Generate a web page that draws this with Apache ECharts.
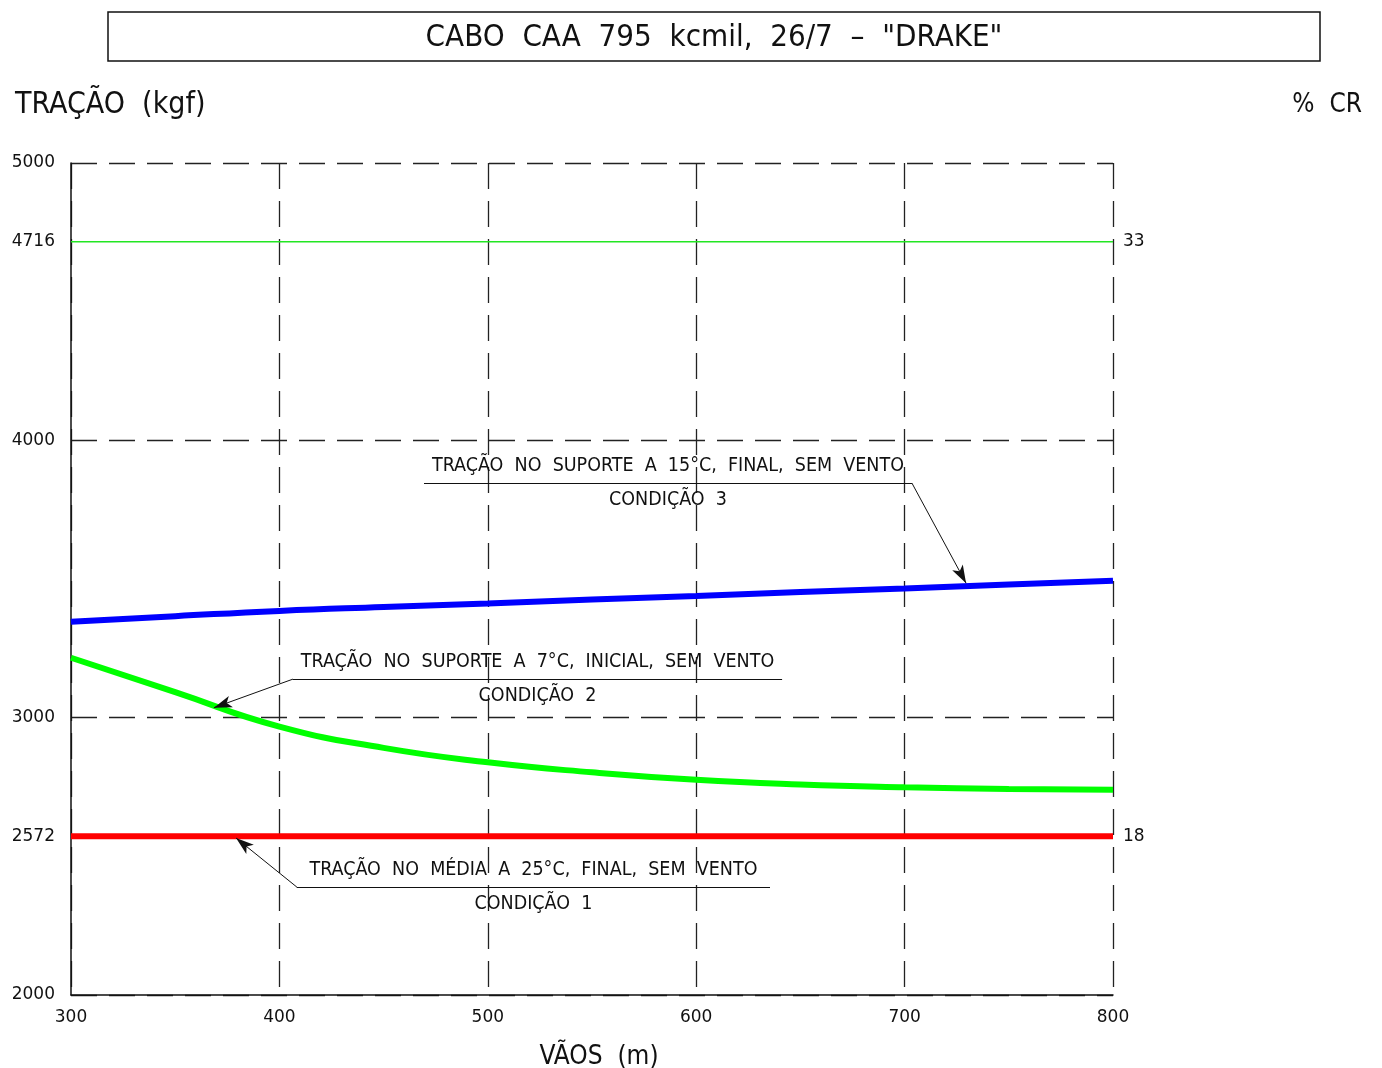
<!doctype html>
<html>
    <head>
        <meta charset="utf-8">
        <title>Cabo CAA 795 kcmil - Drake</title>
        <style>
            html, body { margin: 0; padding: 0; background: #fff; overflow: hidden; }
            #main { width: 1382px; height: 1068px; }
        </style>
    </head>
    <body>
        <div id="main"></div>
        <script src="https://cdn.jsdelivr.net/npm/echarts@6/dist/echarts.min.js"></script>
        <script>
            var FONT = '"DejaVu Sans Condensed", "Liberation Sans Narrow", "DejaVu Sans", sans-serif';
            var NUMFONT = '"DejaVu Sans", sans-serif';
            var INK = '#111';

            // vãos (m) e trações (kgf)
            var spans = [300, 350, 400, 450, 500, 550, 600, 650, 700, 750, 800];
            var cond3 = [3346, 3366, 3385, 3399, 3412, 3426, 3439, 3453, 3466, 3480, 3494];
            var cond2 = [3216, 3092, 2968, 2891, 2839, 2803, 2776, 2759, 2749, 2743, 2740];
            var cond1 = [2572, 2572];
            var limitCR = [4716, 4716];
            var limitSpans = [300, 800];

            var leftTicks = [2000, 2572, 3000, 4000, 4716, 5000];
            var rightTicks = [2572, 4716];
            var rightLabels = { 2572: '18', 4716: '33' };

            // anotações: texto, sublinhado [x1, x2, y], ponta da seta [x, y]
            var notes = [
                { text: 'TRAÇÃO  NO  SUPORTE  A  15°C,  FINAL,  SEM  VENTO', cond: 'CONDIÇÃO  3',
                  line: [469.4, 703.5, 3846], tip: [729.5, 3485], from: 'right' },
                { text: 'TRAÇÃO  NO  SUPORTE  A  7°C,  INICIAL,  SEM  VENTO', cond: 'CONDIÇÃO  2',
                  line: [406.5, 641.2, 3139], tip: [368.6, 3036], from: 'left' },
                { text: 'TRAÇÃO  NO  MÉDIA  A  25°C,  FINAL,  SEM  VENTO', cond: 'CONDIÇÃO  1',
                  line: [408.4, 635.4, 2389], tip: [379.2, 2566], from: 'left' }
            ];

            function zip(xs, ys) {
                return xs.map(function (x, i) { return [x, ys[i]]; });
            }

            function noteLines(n) {
                var y = n.line[2];
                var start = n.from === 'right' ? n.line[1] : n.line[0];
                var lbl = { color: INK, fontFamily: FONT, fontSize: 19.5, distance: 7 };
                return {
                    silent: true,
                    symbol: ['none', 'none'],
                    lineStyle: { color: INK, width: 1, type: 'solid' },
                    data: [
                        [{ coord: [n.line[0], y] }, { coord: [n.line[1], y],
                            label: Object.assign({ show: true, position: 'insideMiddleTop', formatter: n.text }, lbl) }],
                        [{ coord: [n.line[0], y] }, { coord: [n.line[1], y],
                            label: Object.assign({ show: true, position: 'insideMiddleBottom', formatter: n.cond }, lbl) }],
                        [{ coord: [start, y], symbol: 'none' },
                         { coord: n.tip, symbol: 'arrow', symbolSize: [9, 18], label: { show: false } }]
                    ]
                };
            }

            var grid = { type: [26, 12], color: '#222', width: 1.3 };

            var chart = echarts.init(document.getElementById('main'));

            chart.setOption({
                animation: false,
                backgroundColor: '#fff',
                textStyle: { fontFamily: FONT, color: INK },
                graphic: [
                    { type: 'rect', shape: { x: 108, y: 12, width: 1212, height: 49 },
                      style: { fill: 'none', stroke: INK, lineWidth: 1.5 } },
                    { type: 'text', x: 714, y: 38,
                      style: { text: 'CABO  CAA  795  kcmil,  26/7  –  "DRAKE"', fill: INK, font: '31px ' + FONT,
                               align: 'center', verticalAlign: 'middle', textAlign: 'center', textVerticalAlign: 'middle' } },
                    { type: 'text', x: 15, y: 105,
                      style: { text: 'TRAÇÃO  (kgf)', fill: INK, font: '30px ' + FONT,
                               align: 'left', verticalAlign: 'middle', textAlign: 'left', textVerticalAlign: 'middle' } },
                    { type: 'text', x: 1362, y: 105,
                      style: { text: '%  CR', fill: INK, font: '26px ' + FONT,
                               align: 'right', verticalAlign: 'middle', textAlign: 'right', textVerticalAlign: 'middle' } }
                ],
                grid: { left: 71, top: 163, width: 1042, height: 832, outerBoundsMode: 'none', containLabel: false },
                xAxis: {
                    type: 'value', min: 300, max: 800, interval: 100,
                    name: 'VÃOS  (m)', nameLocation: 'middle', nameGap: 49,
                    nameTextStyle: { fontSize: 26, color: INK, fontFamily: FONT, padding: [0, 0, 0, 14] },
                    axisLine: { show: true, lineStyle: { color: INK, width: 1.5 } },
                    axisTick: { show: false },
                    axisLabel: { margin: 14, fontSize: 17, color: INK, fontFamily: NUMFONT,
                                 formatter: function (v) { return String(v); } },
                    splitLine: { show: true, lineStyle: grid }
                },
                yAxis: [{
                    type: 'value', min: 2000, max: 5000, interval: 1000,
                    axisLine: { show: true, lineStyle: { color: INK, width: 1.5 } },
                    axisTick: { show: false },
                    axisLabel: { customValues: leftTicks, margin: 16, fontSize: 17, color: INK, fontFamily: NUMFONT,
                                 formatter: function (v) { return String(v); } },
                    splitLine: { show: true, lineStyle: grid }
                }, {
                    type: 'value', min: 2000, max: 5000, position: 'right',
                    axisLine: { show: false },
                    axisTick: { show: false },
                    splitLine: { show: false },
                    axisLabel: {
                        customValues: rightTicks, margin: 10, fontSize: 17, color: INK, fontFamily: NUMFONT,
                        formatter: function (v) { return rightLabels[v] || ''; }
                    }
                }],
                series: [{
                    name: 'CR 33%', type: 'line', showSymbol: false, silent: true,
                    data: zip(limitSpans, limitCR),
                    lineStyle: { color: '#22e622', width: 1.5 }
                }, {
                    name: 'Condição 3', type: 'line', showSymbol: false, silent: true, smooth: true,
                    data: zip(spans, cond3),
                    lineStyle: { color: '#0000ff', width: 6 },
                    markLine: noteLines(notes[0])
                }, {
                    name: 'Condição 2', type: 'line', showSymbol: false, silent: true, smooth: 0.5,
                    data: zip(spans, cond2),
                    lineStyle: { color: '#00ff00', width: 6 },
                    markLine: noteLines(notes[1])
                }, {
                    name: 'Condição 1', type: 'line', showSymbol: false, silent: true,
                    data: zip(limitSpans, cond1),
                    lineStyle: { color: '#ff0000', width: 6 },
                    markLine: noteLines(notes[2])
                }]
            });

            window.addEventListener('resize', function () {
                chart.resize();
            });
        </script>
    </body>
</html>
